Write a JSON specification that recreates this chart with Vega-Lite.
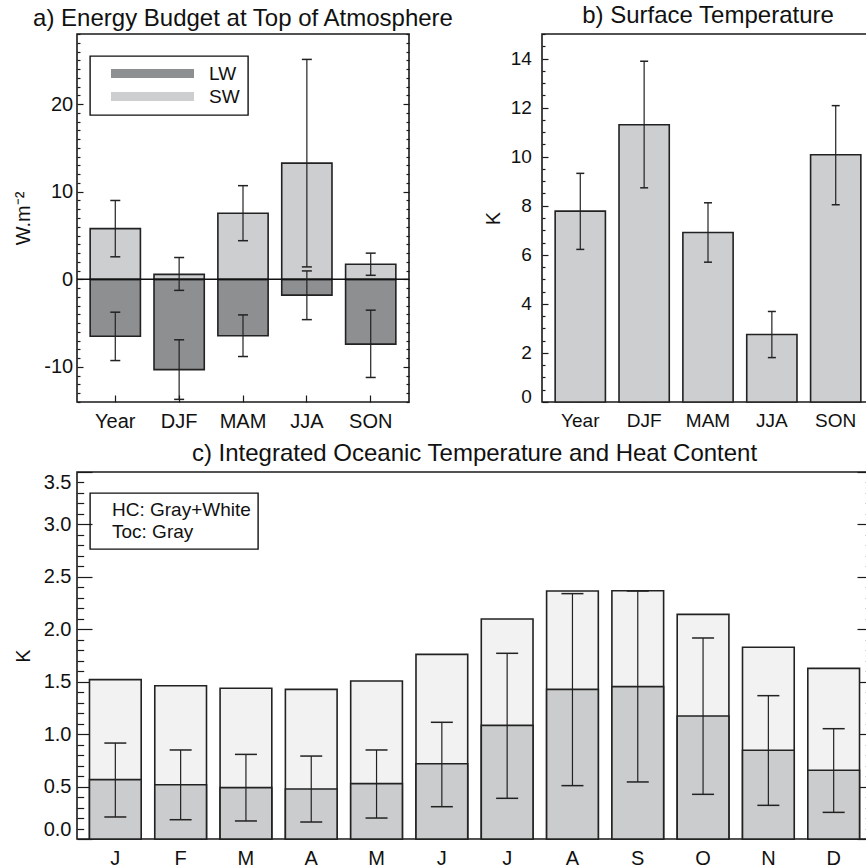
{
  "$schema": "https://vega.github.io/schema/vega-lite/v6.json",
  "background": "white",
  "padding": {"left": 12, "top": 3, "right": -8, "bottom": -4},
  "config": {
    "font": "Liberation Sans",
    "view": {"stroke": "#1a1a1a", "strokeWidth": 1.6},
    "title": {"font": "Liberation Sans", "fontSize": 24, "fontWeight": "normal", "color": "#111111", "anchor": "middle", "frame": "group", "baseline": "alphabetic", "offset": 2},
    "axis": {"domain": false, "grid": false, "tickColor": "#1a1a1a", "tickWidth": 1.2, "labelColor": "#111111", "labelFont": "Liberation Sans", "titleFont": "Liberation Sans", "titleFontWeight": "normal", "titleColor": "#111111", "titleFontSize": 20, "labelFontSize": 20},
    "legend": {"labelFont": "Liberation Sans", "labelColor": "#111111", "labelFontSize": 19, "strokeColor": "#111111", "strokeWidth": 1.4}
  },
  "datasets": {
    "a": [
      {"season": "Year", "comp": "LW", "value": -6.5, "lo": -9.27, "hi": -3.75},
      {"season": "Year", "comp": "SW", "value": 5.79, "lo": 2.57, "hi": 9.0},
      {"season": "DJF", "comp": "LW", "value": -10.3, "lo": -13.7, "hi": -6.9},
      {"season": "DJF", "comp": "SW", "value": 0.57, "lo": -1.26, "hi": 2.49},
      {"season": "MAM", "comp": "LW", "value": -6.44, "lo": -8.81, "hi": -4.06},
      {"season": "MAM", "comp": "SW", "value": 7.55, "lo": 4.41, "hi": 10.69},
      {"season": "JJA", "comp": "LW", "value": -1.8, "lo": -4.6, "hi": 0.96},
      {"season": "JJA", "comp": "SW", "value": 13.26, "lo": 1.42, "hi": 25.1},
      {"season": "SON", "comp": "LW", "value": -7.39, "lo": -11.2, "hi": -3.52},
      {"season": "SON", "comp": "SW", "value": 1.72, "lo": 0.46, "hi": 2.99}
    ],
    "b": [
      {"season": "Year", "value": 7.78, "lo": 6.22, "hi": 9.32},
      {"season": "DJF", "value": 11.3, "lo": 8.73, "hi": 13.89},
      {"season": "MAM", "value": 6.91, "lo": 5.7, "hi": 8.12},
      {"season": "JJA", "value": 2.75, "lo": 1.81, "hi": 3.69},
      {"season": "SON", "value": 10.08, "lo": 8.04, "hi": 12.08}
    ],
    "c": [
      {"month": "Jan", "hc": 1.52, "toc": 0.566, "lo": 0.21, "hi": 0.915},
      {"month": "Feb", "hc": 1.462, "toc": 0.518, "lo": 0.184, "hi": 0.849},
      {"month": "Mar", "hc": 1.437, "toc": 0.49, "lo": 0.172, "hi": 0.807},
      {"month": "Apr", "hc": 1.427, "toc": 0.477, "lo": 0.162, "hi": 0.791},
      {"month": "May", "hc": 1.507, "toc": 0.528, "lo": 0.2, "hi": 0.849},
      {"month": "Jun", "hc": 1.761, "toc": 0.718, "lo": 0.308, "hi": 1.113},
      {"month": "Jul", "hc": 2.098, "toc": 1.084, "lo": 0.388, "hi": 1.771},
      {"month": "Aug", "hc": 2.365, "toc": 1.427, "lo": 0.509, "hi": 2.34},
      {"month": "Sep", "hc": 2.368, "toc": 1.453, "lo": 0.544, "hi": 2.365},
      {"month": "Oct", "hc": 2.142, "toc": 1.173, "lo": 0.426, "hi": 1.917},
      {"month": "Nov", "hc": 1.828, "toc": 0.846, "lo": 0.321, "hi": 1.367},
      {"month": "Dec", "hc": 1.627, "toc": 0.655, "lo": 0.254, "hi": 1.052}
    ]
  },
  "resolve": {"scale": {"color": "independent", "fill": "independent"}, "legend": {"color": "independent", "fill": "independent"}},
  "spacing": 9,
  "vconcat": [
    {
      "hconcat": [
        {
          "title": "a) Energy Budget at Top of Atmosphere",
          "width": 332,
          "height": 368,
          "data": {"name": "a"},
          "resolve": {"axis": {"y": "independent"}},
          "layer": [
            {
              "mark": {"type": "bar", "stroke": "#222222", "strokeWidth": 1.6},
              "encoding": {
                "x": {"field": "season", "type": "nominal", "sort": ["Year", "DJF", "MAM", "JJA", "SON"], "scale": {"paddingInner": 0.213, "paddingOuter": 0.206},
                  "axis": {"title": null, "labelAngle": 0, "tickSize": -7, "labelPadding": 16, "labelFontSize": 20, "domain": false}},
                "y": {"field": "value", "type": "quantitative", "scale": {"domain": [-14, 28], "nice": false, "zero": false},
                  "axis": {"orient": "left", "title": "W.m⁻²", "values": [-14,-13,-12,-11,-10,-9,-8,-7,-6,-5,-4,-3,-2,-1,0,1,2,3,4,5,6,7,8,9,10,11,12,13,14,15,16,17,18,19,20,21,22,23,24,25,26,27,28],
                    "tickSize": {"condition": {"test": "datum.value % 10 === 0", "value": -6}, "value": -3},
                    "labelExpr": "datum.value % 10 === 0 ? '' + datum.value : ''",
                    "labelPadding": 10.3, "labelOverlap": false, "labelFlush": true, "titlePadding": 10, "domain": false}},
                "y2": {"datum": 0},
                "color": {"field": "comp", "type": "nominal", "scale": {"domain": ["LW", "SW"], "range": ["#8e8f91", "#cdced0"]},
                  "legend": {"orient": "none", "legendX": 13, "legendY": 22, "title": null, "direction": "vertical", "symbolType": "M-8.3,-0.9H8.3V0.9H-8.3Z", "symbolSize": 100, "symbolStrokeWidth": 0, "symbolOffset": 45, "labelOffset": 47, "padding": 8, "rowPadding": 3, "labelFontSize": 19}}
              }
            },
            {
              "data": {"values": [{"v": 0}]},
              "mark": {"type": "rule", "color": "#111111", "strokeWidth": 1.5},
              "encoding": {"y": {"field": "v", "type": "quantitative", "scale": {"domain": [-14, 28], "nice": false, "zero": false}, "axis": null}}
            },
            {
              "mark": {"type": "rule", "color": "#222222", "strokeWidth": 1.2},
              "encoding": {
                "x": {"field": "season", "type": "nominal", "sort": ["Year", "DJF", "MAM", "JJA", "SON"], "scale": {"paddingInner": 0.213, "paddingOuter": 0.206},
                  "axis": {"title": null, "labelAngle": 0, "tickSize": -7, "labelPadding": 16, "labelFontSize": 20, "domain": false}},
                "y": {"field": "lo", "type": "quantitative", "scale": {"domain": [-14, 28], "nice": false, "zero": false},
                  "axis": {"orient": "right", "title": null, "labels": false, "values": [-14,-13,-12,-11,-10,-9,-8,-7,-6,-5,-4,-3,-2,-1,0,1,2,3,4,5,6,7,8,9,10,11,12,13,14,15,16,17,18,19,20,21,22,23,24,25,26,27,28],
                    "tickSize": {"condition": {"test": "datum.value % 10 === 0", "value": -6}, "value": -3}, "domain": false}},
                "y2": {"field": "hi"}
              }
            },
            {
              "mark": {"type": "tick", "color": "#222222", "size": 10, "thickness": 1.5, "opacity": 1},
              "encoding": {
                "x": {"field": "season", "type": "nominal", "sort": ["Year", "DJF", "MAM", "JJA", "SON"], "scale": {"paddingInner": 0.213, "paddingOuter": 0.206},
                  "axis": {"title": null, "labelAngle": 0, "tickSize": -7, "labelPadding": 16, "labelFontSize": 20, "domain": false}},
                "y": {"field": "lo", "type": "quantitative", "scale": {"domain": [-14, 28], "nice": false, "zero": false}, "axis": null}
              }
            },
            {
              "mark": {"type": "tick", "color": "#222222", "size": 10, "thickness": 1.5, "opacity": 1},
              "encoding": {
                "x": {"field": "season", "type": "nominal", "sort": ["Year", "DJF", "MAM", "JJA", "SON"], "scale": {"paddingInner": 0.213, "paddingOuter": 0.206},
                  "axis": {"title": null, "labelAngle": 0, "tickSize": -7, "labelPadding": 16, "labelFontSize": 20, "domain": false}},
                "y": {"field": "hi", "type": "quantitative", "scale": {"domain": [-14, 28], "nice": false, "zero": false}, "axis": null}
              }
            }
          ]
        },
        {
          "title": "b) Surface Temperature",
          "width": 332,
          "height": 368,
          "data": {"name": "b"},
          "resolve": {"axis": {"y": "independent"}},
          "layer": [
            {
              "mark": {"type": "bar", "fill": "#cdced0", "stroke": "#222222", "strokeWidth": 1.6},
              "encoding": {
                "x": {"field": "season", "type": "nominal", "sort": ["Year", "DJF", "MAM", "JJA", "SON"], "scale": {"paddingInner": 0.213, "paddingOuter": 0.206},
                  "axis": {"title": null, "labelAngle": 0, "tickSize": -7, "labelPadding": 16, "labelFontSize": 19, "domain": false}},
                "y": {"field": "value", "type": "quantitative", "scale": {"domain": [0, 15], "nice": false, "zero": false},
                  "axis": {"orient": "left", "title": "K", "values": [0,0.5,1,1.5,2,2.5,3,3.5,4,4.5,5,5.5,6,6.5,7,7.5,8,8.5,9,9.5,10,10.5,11,11.5,12,12.5,13,13.5,14,14.5,15],
                    "tickSize": {"condition": {"test": "datum.value % 2 === 0", "value": -6}, "value": -3},
                    "labelExpr": "datum.value % 2 === 0 ? '' + datum.value : ''",
                    "labelPadding": 16.7, "labelFontSize": 19, "labelOverlap": false, "labelFlush": true, "labelFlushOffset": 4, "titlePadding": 6.6, "domain": false}}
              }
            },
            {
              "mark": {"type": "rule", "color": "#222222", "strokeWidth": 1.2},
              "encoding": {
                "x": {"field": "season", "type": "nominal", "sort": ["Year", "DJF", "MAM", "JJA", "SON"], "scale": {"paddingInner": 0.213, "paddingOuter": 0.206},
                  "axis": {"title": null, "labelAngle": 0, "tickSize": -7, "labelPadding": 16, "labelFontSize": 19, "domain": false}},
                "y": {"field": "lo", "type": "quantitative", "scale": {"domain": [0, 15], "nice": false, "zero": false}, "axis": null},
                "y2": {"field": "hi"}
              }
            },
            {
              "mark": {"type": "tick", "color": "#222222", "size": 8, "thickness": 1.5, "opacity": 1},
              "encoding": {
                "x": {"field": "season", "type": "nominal", "sort": ["Year", "DJF", "MAM", "JJA", "SON"], "scale": {"paddingInner": 0.213, "paddingOuter": 0.206},
                  "axis": {"title": null, "labelAngle": 0, "tickSize": -7, "labelPadding": 16, "labelFontSize": 19, "domain": false}},
                "y": {"field": "lo", "type": "quantitative", "scale": {"domain": [0, 15], "nice": false, "zero": false}, "axis": null}
              }
            },
            {
              "mark": {"type": "tick", "color": "#222222", "size": 8, "thickness": 1.5, "opacity": 1},
              "encoding": {
                "x": {"field": "season", "type": "nominal", "sort": ["Year", "DJF", "MAM", "JJA", "SON"], "scale": {"paddingInner": 0.213, "paddingOuter": 0.206},
                  "axis": {"title": null, "labelAngle": 0, "tickSize": -7, "labelPadding": 16, "labelFontSize": 19, "domain": false}},
                "y": {"field": "hi", "type": "quantitative", "scale": {"domain": [0, 15], "nice": false, "zero": false}, "axis": null}
              }
            }
          ]
        }
      ],
      "spacing": 133,
      "bounds": "flush",
      "resolve": {"scale": {"color": "independent", "fill": "independent"}, "legend": {"color": "independent", "fill": "independent"}}
    },
    {
      "title": {"text": "c) Integrated Oceanic Temperature and Heat Content", "offset": 5},
      "width": 795,
      "height": 367,
      "data": {"name": "c"},
      "resolve": {"axis": {"y": "independent"}},
      "layer": [
        {
          "mark": {"type": "bar", "stroke": "#222222", "strokeWidth": 1.6},
          "encoding": {
            "x": {"field": "month", "type": "nominal", "sort": ["Jan", "Feb", "Mar", "Apr", "May", "Jun", "Jul", "Aug", "Sep", "Oct", "Nov", "Dec"], "scale": {"paddingInner": 0.208, "paddingOuter": 0.191},
              "axis": {"title": null, "labelAngle": 0, "tickSize": -7, "labelPadding": 16, "labelFontSize": 20, "domain": false, "labelExpr": "substring(datum.label, 0, 1)"}},
            "y": {"field": "hc", "type": "quantitative", "scale": {"domain": [0, 3.5], "nice": false, "zero": false},
              "axis": {"orient": "left", "title": "K", "values": [0,0.1,0.2,0.3,0.4,0.5,0.6,0.7,0.8,0.9,1,1.1,1.2,1.3,1.4,1.5,1.6,1.7,1.8,1.9,2,2.1,2.2,2.3,2.4,2.5,2.6,2.7,2.8,2.9,3,3.1,3.2,3.3,3.4,3.5],
                "tickSize": {"condition": {"test": "abs(datum.value * 2 - round(datum.value * 2)) < 0.001", "value": -15}, "value": -6.7},
                "labelExpr": "abs(datum.value * 2 - round(datum.value * 2)) < 0.001 ? format(datum.value, '.1f') : ''",
                "labelPadding": 21, "labelOverlap": false, "labelFlush": true, "titlePadding": 9.7, "domain": false}},
            "y2": {"datum": 0},
            "fill": {"datum": "HC: Gray+White", "type": "nominal", "scale": {"domain": ["HC: Gray+White", "Toc: Gray"], "range": ["#f2f2f2", "#cbcccd"]},
              "legend": {"orient": "none", "legendX": 13, "legendY": 21, "title": null, "direction": "vertical", "symbolSize": 0, "symbolOpacity": 0, "symbolStrokeWidth": 0, "labelOffset": -4, "padding": 7, "rowPadding": 2, "labelFontSize": 19}}
          }
        },
        {
          "mark": {"type": "bar", "stroke": "#222222", "strokeWidth": 1.6},
          "encoding": {
            "x": {"field": "month", "type": "nominal", "sort": ["Jan", "Feb", "Mar", "Apr", "May", "Jun", "Jul", "Aug", "Sep", "Oct", "Nov", "Dec"], "scale": {"paddingInner": 0.208, "paddingOuter": 0.191},
              "axis": {"title": null, "labelAngle": 0, "tickSize": -7, "labelPadding": 16, "labelFontSize": 20, "domain": false, "labelExpr": "substring(datum.label, 0, 1)"}},
            "y": {"field": "toc", "type": "quantitative", "scale": {"domain": [0, 3.5], "nice": false, "zero": false}, "axis": null},
            "y2": {"datum": 0},
            "fill": {"datum": "Toc: Gray", "type": "nominal"}
          }
        },
        {
          "mark": {"type": "rule", "color": "#222222", "strokeWidth": 1.2},
          "encoding": {
            "x": {"field": "month", "type": "nominal", "sort": ["Jan", "Feb", "Mar", "Apr", "May", "Jun", "Jul", "Aug", "Sep", "Oct", "Nov", "Dec"], "scale": {"paddingInner": 0.208, "paddingOuter": 0.191},
              "axis": {"title": null, "labelAngle": 0, "tickSize": -7, "labelPadding": 16, "labelFontSize": 20, "domain": false, "labelExpr": "substring(datum.label, 0, 1)"}},
            "y": {"field": "lo", "type": "quantitative", "scale": {"domain": [0, 3.5], "nice": false, "zero": false},
              "axis": {"orient": "right", "title": null, "labels": false, "values": [0,0.1,0.2,0.3,0.4,0.5,0.6,0.7,0.8,0.9,1,1.1,1.2,1.3,1.4,1.5,1.6,1.7,1.8,1.9,2,2.1,2.2,2.3,2.4,2.5,2.6,2.7,2.8,2.9,3,3.1,3.2,3.3,3.4,3.5],
                "tickSize": {"condition": {"test": "abs(datum.value * 2 - round(datum.value * 2)) < 0.001", "value": -15}, "value": -6.7}, "domain": false}},
            "y2": {"field": "hi"}
          }
        },
        {
          "mark": {"type": "tick", "color": "#222222", "size": 22, "thickness": 1.5, "opacity": 1},
          "encoding": {
            "x": {"field": "month", "type": "nominal", "sort": ["Jan", "Feb", "Mar", "Apr", "May", "Jun", "Jul", "Aug", "Sep", "Oct", "Nov", "Dec"], "scale": {"paddingInner": 0.208, "paddingOuter": 0.191},
              "axis": {"title": null, "labelAngle": 0, "tickSize": -7, "labelPadding": 16, "labelFontSize": 20, "domain": false, "labelExpr": "substring(datum.label, 0, 1)"}},
            "y": {"field": "lo", "type": "quantitative", "scale": {"domain": [0, 3.5], "nice": false, "zero": false}, "axis": null}
          }
        },
        {
          "mark": {"type": "tick", "color": "#222222", "size": 22, "thickness": 1.5, "opacity": 1},
          "encoding": {
            "x": {"field": "month", "type": "nominal", "sort": ["Jan", "Feb", "Mar", "Apr", "May", "Jun", "Jul", "Aug", "Sep", "Oct", "Nov", "Dec"], "scale": {"paddingInner": 0.208, "paddingOuter": 0.191},
              "axis": {"title": null, "labelAngle": 0, "tickSize": -7, "labelPadding": 16, "labelFontSize": 20, "domain": false, "labelExpr": "substring(datum.label, 0, 1)"}},
            "y": {"field": "hi", "type": "quantitative", "scale": {"domain": [0, 3.5], "nice": false, "zero": false}, "axis": null}
          }
        }
      ]
    }
  ]
}
